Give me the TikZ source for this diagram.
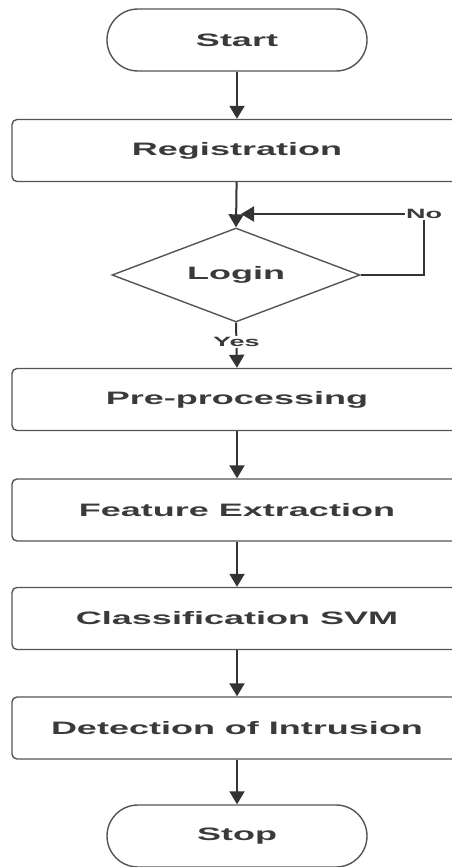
\documentclass[tikz,border=0pt]{standalone}
\usepackage{fontspec}
\setmainfont{Liberation Sans}
\newfontfamily\labfont[FakeStretch=2.0]{Liberation Sans Bold}
\usetikzlibrary{arrows.meta,shapes.geometric}
\definecolor{txt}{HTML}{3A3A3A}
\definecolor{edge}{HTML}{555555}
\definecolor{lnk}{HTML}{333333}
\tikzset{
  term/.style={draw=edge, line width=1.4pt, rounded corners=31pt, minimum width=260pt, minimum height=62pt, fill=white, text=txt, font=\labfont\fontsize{18}{20}\selectfont, inner sep=0pt},
  stepbox/.style={draw=edge, line width=1.4pt, rounded corners=5pt, minimum width=450pt, minimum height=62pt, fill=white, text=txt, font=\labfont\fontsize{18}{20}\selectfont, inner sep=0pt},
  decide/.style={diamond, draw=edge, line width=1.4pt, minimum width=248pt, minimum height=94pt, aspect=2.64, inner sep=0pt, fill=white, text=txt, font=\labfont\fontsize{18}{20}\selectfont},
  lbl/.style={text=txt, font=\labfont\fontsize{13.5}{15}\selectfont, inner sep=1pt, fill=white},
  arr/.style={draw=lnk, line width=2pt, -{Triangle[length=13pt,width=15pt]}},
  ln/.style={draw=lnk, line width=2pt}
}
\begin{document}
\begin{tikzpicture}[x=1pt,y=-1pt]
\useasboundingbox (0,0) rectangle (452,867);
\clip (0,0) rectangle (452,867);
\fill[white] (0,0) rectangle (452,867);
\node[term] (start) at (237,40) {Start};
\node[stepbox] (reg) at (237,150.5) {Registration};
\node[decide] (login) at (236,275) {Login};
\node[stepbox] (pre) at (237,399.5) {Pre-processing};
\node[stepbox] (feat) at (237,510) {Feature Extraction};
\node[stepbox] (cls) at (237,618.5) {Classification SVM};
\node[stepbox] (det) at (237,728) {Detection of Intrusion};
\node[term] (stop) at (237,836) {Stop};
\node[lbl] (no) at (424,214) {No};
\coordinate (join) at (241,214);

\draw[arr] (start) -- (reg);
\draw[arr] (reg) -- (login.north);
\draw[ln] (login.east) -| (no.south);
\draw[arr] (no.west) -- (join);
\draw[arr] (login.south) -- node[lbl, pos=0.43] (yes) {Yes} (pre.north);
\draw[arr] (pre) -- (feat);
\draw[arr] (feat) -- (cls);
\draw[arr] (cls) -- (det);
\draw[arr] (det) -- (stop);
\end{tikzpicture}
\end{document}
